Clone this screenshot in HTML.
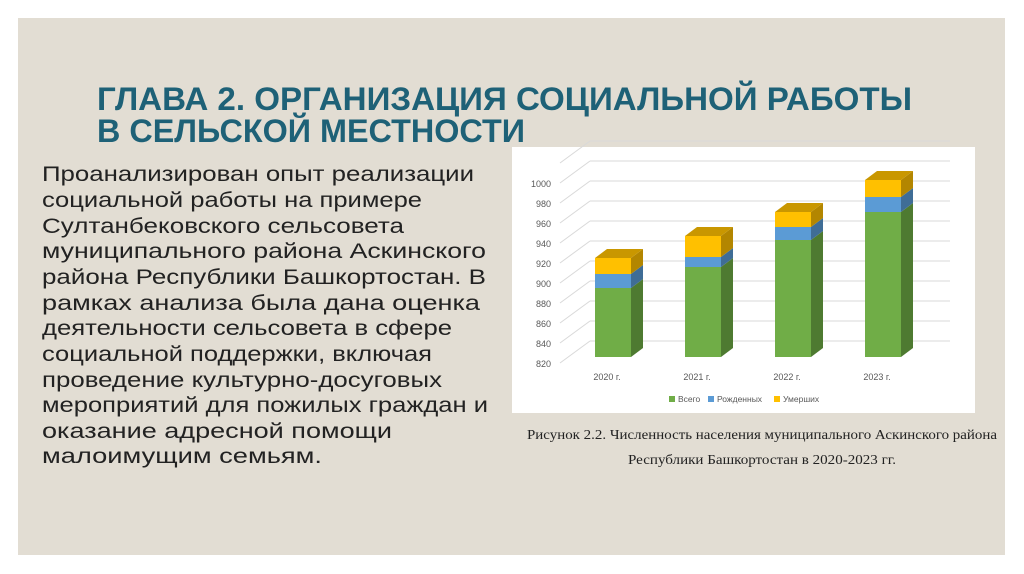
<!DOCTYPE html>
<html><head><meta charset="utf-8">
<style>
html,body{margin:0;padding:0;background:#fff;}
svg{display:block;}
</style></head>
<body>
<svg id="page" width="1024" height="574" viewBox="0 0 1024 574" xmlns="http://www.w3.org/2000/svg">
<rect x="18" y="18" width="987" height="537" fill="#e2ddd3"/>
<g font-family="'Liberation Sans', sans-serif" font-weight="bold" fill="#1e6177" font-size="32">
<text x="97" y="110" textLength="815" lengthAdjust="spacingAndGlyphs">ГЛАВА 2. ОРГАНИЗАЦИЯ СОЦИАЛЬНОЙ РАБОТЫ</text>
<text x="97" y="142" textLength="428" lengthAdjust="spacingAndGlyphs">В СЕЛЬСКОЙ МЕСТНОСТИ</text>
</g>
<g font-family="'Liberation Sans', sans-serif" fill="#222" font-size="21">
<text x="42" y="181" textLength="432" lengthAdjust="spacingAndGlyphs">Проанализирован опыт реализации</text>
<text x="42" y="207" textLength="380" lengthAdjust="spacingAndGlyphs">социальной работы на примере</text>
<text x="42" y="233" textLength="362" lengthAdjust="spacingAndGlyphs">Султанбековского сельсовета</text>
<text x="42" y="258" textLength="444" lengthAdjust="spacingAndGlyphs">муниципального района Аскинского</text>
<text x="42" y="284" textLength="444" lengthAdjust="spacingAndGlyphs">района Республики Башкортостан. В</text>
<text x="42" y="310" textLength="438" lengthAdjust="spacingAndGlyphs">рамках анализа была дана оценка</text>
<text x="42" y="335" textLength="410" lengthAdjust="spacingAndGlyphs">деятельности сельсовета в сфере</text>
<text x="42" y="361" textLength="390" lengthAdjust="spacingAndGlyphs">социальной поддержки, включая</text>
<text x="42" y="387" textLength="400" lengthAdjust="spacingAndGlyphs">проведение культурно-досуговых</text>
<text x="42" y="412" textLength="446" lengthAdjust="spacingAndGlyphs">мероприятий для пожилых граждан и</text>
<text x="42" y="438" textLength="350" lengthAdjust="spacingAndGlyphs">оказание адресной помощи</text>
<text x="42" y="463" textLength="280" lengthAdjust="spacingAndGlyphs">малоимущим семьям.</text>
</g>
<rect x="512" y="147" width="463" height="266" fill="#ffffff"/>
<g id="chart"></g>
<g font-family="'Liberation Serif', serif" fill="#222" font-size="14" text-anchor="middle">
<text x="762" y="439" textLength="470" lengthAdjust="spacingAndGlyphs">Рисунок 2.2. Численность населения муниципального Аскинского района</text>
<text x="762" y="464" textLength="268" lengthAdjust="spacingAndGlyphs">Республики Башкортостан в 2020-2023 гг.</text>
</g>
</svg>
<script>
const categories = ["2020 г.", "2021 г.", "2022 г.", "2023 г."];
const totalValues = [889, 910, 937, 965];
const bornValues = [14, 10, 13, 15];
const diedValues = [16, 21, 15, 17];
const yTicks = [820, 840, 860, 880, 900, 920, 940, 960, 980, 1000];
const seriesNames = ["Всего", "Рожденных", "Умерших"];

const NS = "http://www.w3.org/2000/svg";
const g = document.getElementById("chart");
function mk(tag, attrs, parent) {
  const e = document.createElementNS(NS, tag);
  for (const k in attrs) e.setAttribute(k, attrs[k]);
  (parent || g).appendChild(e);
  return e;
}
const yBase = 820;
function yScale(v) { return 357 - (v - yBase) * 1.0; }
function xScale(i) { return 595 + i * 90; }
const barW = 36, dX = 12, dY = 9;

// gridlines (front diagonal + back wall)
yTicks.forEach(function (t) {
  const yf = yScale(t) + 6, yb = yScale(t) - 16;
  const d = mk("line", {x1: 560, y1: yf, x2: 590, y2: yb, stroke: "#d9d9d9", "stroke-width": 1});
  
  
  const l = mk("line", {x1: 590, y1: yb, x2: 950, y2: yb, stroke: "#d9d9d9", "stroke-width": 1});
  
  
  const tx = mk("text", {x: 551, y: yf + 4, "text-anchor": "end", "font-size": 9, fill: "#595959", "font-family": "'Liberation Sans', sans-serif"});
  tx.textContent = t;
  
  
});
// top back line
const topL = mk("line", {x1: 590, y1: yScale(1020) - 16, x2: 950, y2: yScale(1020) - 16, stroke: "#d9d9d9", "stroke-width": 1});


const topD = mk("line", {x1: 560, y1: yScale(1020) + 6, x2: 590, y2: yScale(1020) - 16, stroke: "#d9d9d9", "stroke-width": 1});



const colors = [
  {front: "#70ad47", side: "#4e7a31", top: "#5a8e39"},
  {front: "#5b9bd5", side: "#3f6d96", top: "#4a84b8"},
  {front: "#ffc000", side: "#b38600", top: "#c99700"}
];
function seg(i, v0, v1, c, name) {
  const x = xScale(i), yT = yScale(v1), yB = yScale(v0);
  const grp = mk("g", {});
  
  
  mk("polygon", {points: [x + barW, yB, x + barW + dX, yB - dY, x + barW + dX, yT - dY, x + barW, yT].join(","), fill: c.side}, grp);
  mk("rect", {x: x, y: yT, width: barW, height: yB - yT, fill: c.front}, grp);
  return grp;
}
categories.forEach(function (cat, i) {
  const a = yBase, b = totalValues[i], c = b + bornValues[i], d = c + diedValues[i];
  seg(i, a, b, colors[0], "bar-total-" + (2020 + i));
  seg(i, b, c, colors[1], "bar-born-" + (2020 + i));
  const top = seg(i, c, d, colors[2], "bar-died-" + (2020 + i));
  const x = xScale(i), yT = yScale(d);
  mk("polygon", {points: [x, yT, x + dX, yT - dY, x + barW + dX, yT - dY, x + barW, yT].join(","), fill: colors[2].top}, top);
  const lab = mk("text", {x: x + 12, y: 380, "text-anchor": "middle", "font-size": 9, fill: "#595959", "font-family": "'Liberation Sans', sans-serif"});
  lab.textContent = cat;
  
  
});
// legend
const legX = [672, 711, 777];
seriesNames.forEach(function (n, i) {
  const lg = mk("g", {});
  
  
  mk("rect", {x: legX[i] - 3, y: 396, width: 6, height: 6, fill: colors[i].front}, lg);
  const t = mk("text", {x: legX[i] + 6, y: 402, "font-size": 8.5, fill: "#595959", "font-family": "'Liberation Sans', sans-serif"}, lg);
  t.textContent = n;
});
</script>
</body></html>
